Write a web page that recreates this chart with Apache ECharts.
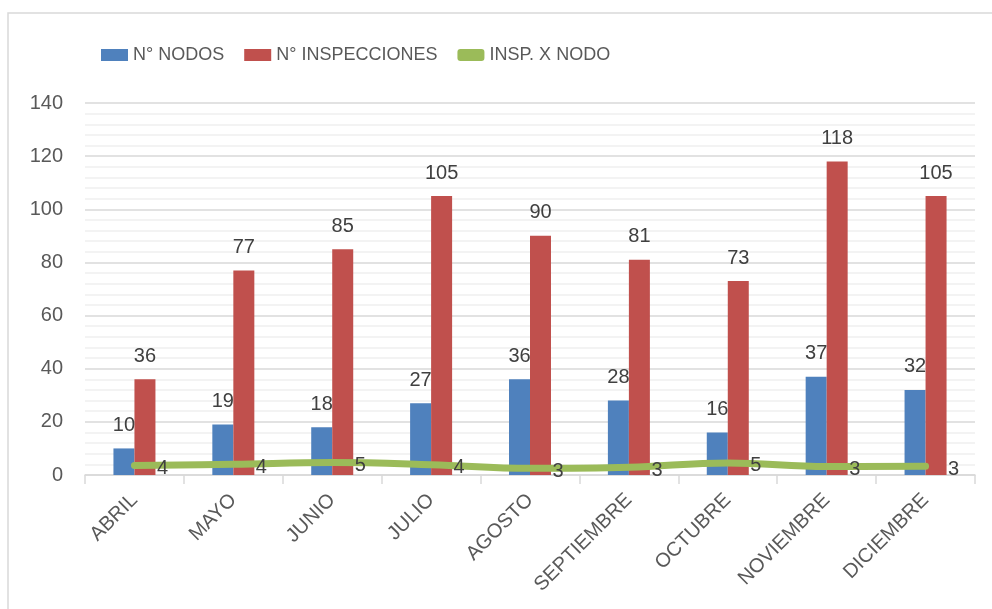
<!DOCTYPE html>
<html>
<head>
<meta charset="utf-8">
<script src="https://cdn.jsdelivr.net/npm/echarts@6/dist/echarts.min.js"></script>
<style>
html, body { margin: 0; padding: 0; background: #fff; }
#main { width: 992px; height: 609px; }
</style>
</head>
<body>
<div id="main"></div>
<script>
var meses = ['ABRIL', 'MAYO', 'JUNIO', 'JULIO', 'AGOSTO', 'SEPTIEMBRE', 'OCTUBRE', 'NOVIEMBRE', 'DICIEMBRE'];
var nodos = [10, 19, 18, 27, 36, 28, 16, 37, 32];
var inspecciones = [36, 77, 85, 105, 90, 81, 73, 118, 105];
var inspPorNodo = [3.6, 4.05, 4.7, 3.9, 2.5, 2.9, 4.55, 3.2, 3.3];

var fuente = '"Liberation Sans", Arial, sans-serif';
var chart = echarts.init(document.getElementById('main'));
chart.setOption({
    animation: false,
    graphic: [{
        type: 'rect',
        shape: { x: 8, y: 13, width: 1100, height: 800 },
        style: { fill: 'none', stroke: '#d9d9d9', lineWidth: 1.5 },
        silent: true
    }],
    legend: {
        left: 96,
        top: 41,
        itemWidth: 27,
        itemHeight: 12,
        itemGap: 20,
        textStyle: { fontFamily: '"Liberation Sans Narrow", ' + fuente, fontSize: 18, color: '#595959' },
        data: [
            { name: 'N° NODOS', icon: 'rect' },
            { name: 'N° INSPECCIONES', icon: 'rect' },
            { name: 'INSP. X NODO', icon: 'roundRect', itemStyle: { color: '#9bbb59' } }
        ]
    },
    grid: { left: 85, right: 17, top: 103, bottom: 134 },
    xAxis: {
        type: 'category',
        data: meses,
        axisLine: { lineStyle: { color: '#d9d9d9', width: 1.5 } },
        axisTick: { show: true, length: 9, lineStyle: { color: '#d9d9d9', width: 1.5 } },
        axisLabel: { rotate: 45, margin: 22, fontFamily: fuente, fontSize: 20, color: '#595959', interval: 0 }
    },
    yAxis: {
        type: 'value',
        min: 0,
        max: 140,
        interval: 20,
        axisLine: { show: false },
        axisTick: { show: false },
        axisLabel: { margin: 22, fontFamily: fuente, fontSize: 20, color: '#595959' },
        splitLine: { lineStyle: { color: '#d9d9d9', width: 1.5 } },
        minorTick: { show: false, splitNumber: 5 },
        minorSplitLine: { show: true, lineStyle: { color: '#efefef', width: 1.5 } }
    },
    series: [
        {
            name: 'N° NODOS',
            type: 'bar',
            data: nodos,
            barWidth: 21,
            barGap: '0%',
            itemStyle: { color: '#4f81bd' },
            label: { show: true, position: 'top', distance: 13, fontFamily: fuente, fontSize: 20, color: '#404040' }
        },
        {
            name: 'N° INSPECCIONES',
            type: 'bar',
            data: inspecciones,
            barWidth: 21,
            barGap: '0%',
            itemStyle: { color: '#c0504d' },
            label: { show: true, position: 'top', distance: 13, fontFamily: fuente, fontSize: 20, color: '#404040' }
        },
        {
            name: 'INSP. X NODO',
            type: 'line',
            data: inspPorNodo,
            smooth: 0.4,
            symbol: 'circle',
            symbolSize: 1,
            itemStyle: { color: '#9bbb59' },
            lineStyle: { color: '#9bbb59', width: 7, cap: 'round', join: 'round' },
            label: {
                show: true,
                position: 'right',
                distance: 22,
                offset: [0, 3],
                fontFamily: fuente,
                fontSize: 20,
                color: '#404040',
                formatter: function (p) { return Math.round(p.value); }
            },
            z: 5
        }
    ]
});
</script>
</body>
</html>
